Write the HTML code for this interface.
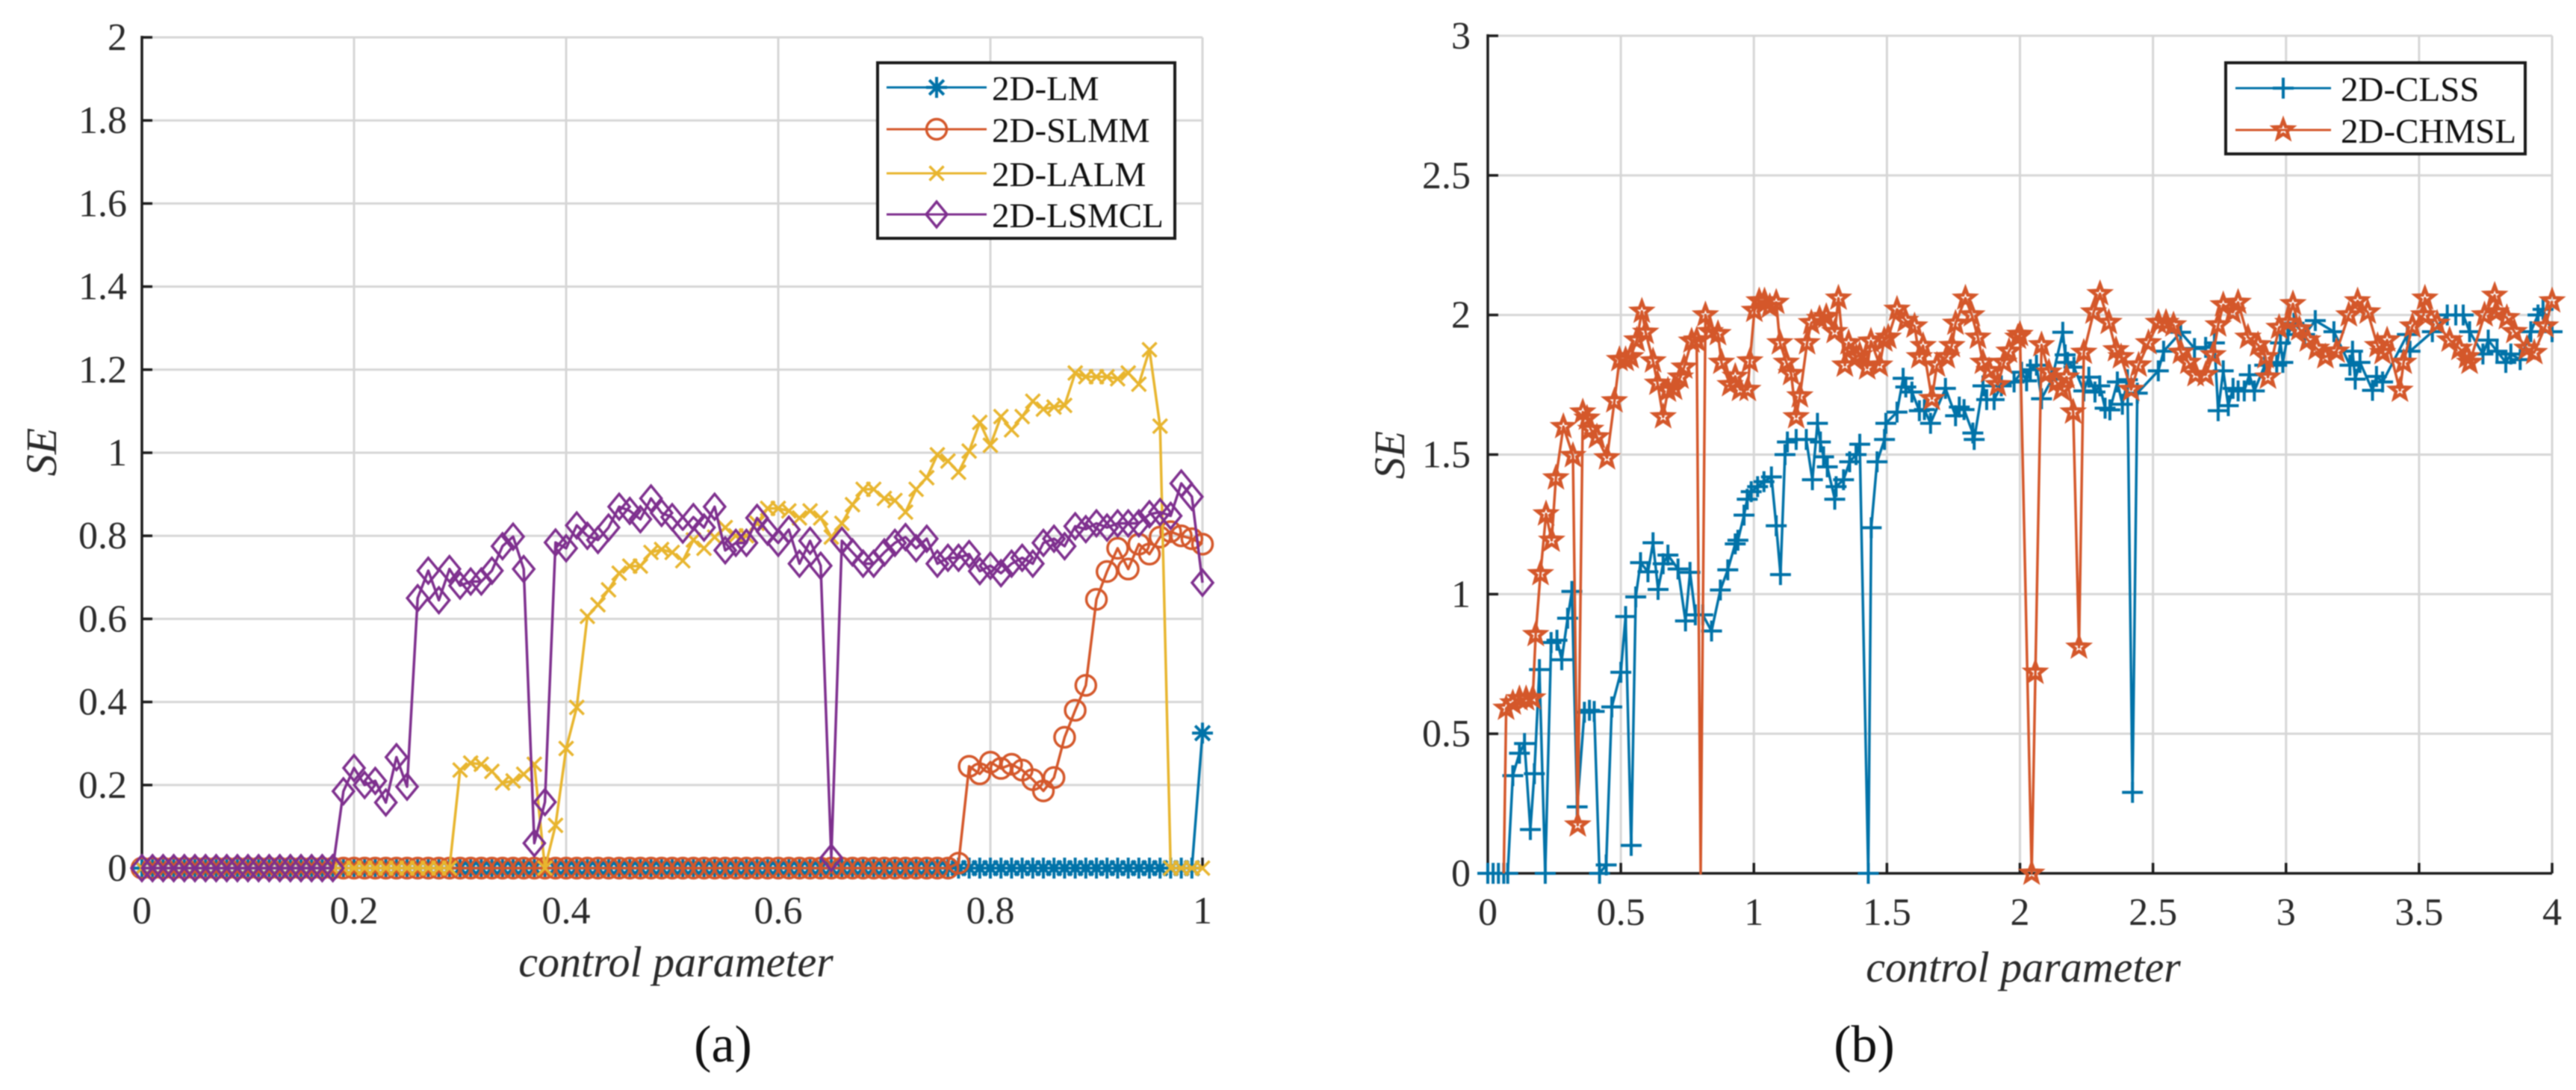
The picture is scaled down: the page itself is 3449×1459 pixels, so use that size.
<!DOCTYPE html>
<html lang="en">
<head>
<meta charset="utf-8">
<title>SE versus control parameter</title>
<style>
html,body{margin:0;padding:0;background:#fff;width:3449px;height:1459px;overflow:hidden}
svg{display:block;font-family:"Liberation Serif",serif;filter:blur(0.9px)}
</style>
</head>
<body>
<svg id="figure" xmlns="http://www.w3.org/2000/svg" width="3449" height="1459" viewBox="0 0 3449 1459">
  <rect width="3449" height="1459" fill="#fff"/>
  <g id="panel-a"></g>
  <g id="panel-b"></g>
  <text x="968" y="1421" font-size="70" text-anchor="middle" fill="#111">(a)</text>
  <text x="2496" y="1421" font-size="70" text-anchor="middle" fill="#111">(b)</text>
</svg>
<script>
/* ---------- panel (a) data ---------- */
const paramA = [0,.01,.02,.03,.04,.05,.06,.07,.08,.09,.1,.11,.12,.13,.14,.15,.16,.17,.18,.19,.2,.21,.22,.23,.24,.25,.26,.27,.28,.29,.3,.31,.32,.33,.34,.35,.36,.37,.38,.39,.4,.41,.42,.43,.44,.45,.46,.47,.48,.49,.5,.51,.52,.53,.54,.55,.56,.57,.58,.59,.6,.61,.62,.63,.64,.65,.66,.67,.68,.69,.7,.71,.72,.73,.74,.75,.76,.77,.78,.79,.8,.81,.82,.83,.84,.85,.86,.87,.88,.89,.9,.91,.92,.93,.94,.95,.96,.97,.98,.99,1];
const lm2d = [0,0,0,0,0,0,0,0,0,0,0,0,0,0,0,0,0,0,0,0,0,0,0,0,0,0,0,0,0,0,0,0,0,0,0,0,0,0,0,0,0,0,0,0,0,0,0,0,0,0,0,0,0,0,0,0,0,0,0,0,0,0,0,0,0,0,0,0,0,0,0,0,0,0,0,0,0,0,0,0,0,0,0,0,0,0,0,0,0,0,0,0,0,0,0,0,0,0,0,0,.325];
const slmm2d = [0,0,0,0,0,0,0,0,0,0,0,0,0,0,0,0,0,0,0,0,0,0,0,0,0,0,0,0,0,0,0,0,0,0,0,0,0,0,0,0,0,0,0,0,0,0,0,0,0,0,0,0,0,0,0,0,0,0,0,0,0,0,0,0,0,0,0,0,0,0,0,0,0,0,0,0,0,.012,.245,.227,.255,.24,.25,.236,.213,.186,.218,.315,.38,.44,.647,.714,.77,.72,.78,.756,.797,.81,.8,.793,.78];
const lalm2d = [0,0,0,0,0,0,0,0,0,0,0,0,0,0,0,0,0,0,0,0,0,0,0,0,0,0,0,0,0,0,.236,.253,.25,.233,.205,.21,.226,.25,0,.103,.288,.387,.606,.634,.67,.71,.727,.727,.76,.767,.76,.74,.79,.77,.797,.82,.8,.8,.83,.866,.866,.86,.843,.86,.843,.797,.83,.875,.912,.912,.89,.885,.857,.912,.94,.995,.98,.953,1.004,1.073,1.018,1.087,1.055,1.087,1.124,1.105,1.11,1.114,1.192,1.183,1.183,1.183,1.178,1.192,1.165,1.248,1.064,0,0,0,0];
const lsmcl2d = [0,0,0,0,0,0,0,0,0,0,0,0,0,0,0,0,0,0,0,.185,.241,.2,.21,.158,.267,.196,.65,.716,.645,.72,.68,.69,.69,.716,.775,.798,.72,.06,.159,.784,.77,.825,.8,.79,.82,.87,.86,.84,.89,.855,.845,.815,.845,.82,.87,.765,.783,.783,.843,.81,.783,.815,.733,.788,.728,.025,.788,.76,.733,.733,.76,.783,.797,.77,.793,.733,.747,.747,.756,.715,.728,.71,.733,.747,.733,.783,.793,.775,.823,.816,.83,.82,.83,.83,.83,.852,.857,.848,.926,.894,.687];
const xTicksA = [0,0.2,0.4,0.6,0.8,1];
const yTicksA = [0,0.2,0.4,0.6,0.8,1,1.2,1.4,1.6,1.8,2];

/* ---------- panel (b) data ---------- */
const clssX = [0,.02,.04,.06,.075,.094,.119,.138,.16,.175,.194,.216,.238,.26,.278,.3,.316,.336,.363,.382,.4,.42,.445,.466,.5,.518,.539,.556,.574,.602,.621,.64,.659,.677,.715,.743,.76,.78,.808,.841,.874,.902,.93,.94,.963,.975,.99,1.014,1.038,1.066,1.084,1.1,1.117,1.126,1.159,1.197,1.22,1.239,1.25,1.262,1.276,1.304,1.309,1.337,1.36,1.384,1.398,1.43,1.441,1.463,1.491,1.496,1.538,1.561,1.571,1.594,1.622,1.641,1.664,1.72,1.758,1.772,1.79,1.823,1.828,1.861,1.875,1.903,1.93,1.978,2.006,2.025,2.039,2.062,2.081,2.12,2.161,2.17,2.179,2.203,2.24,2.259,2.282,2.3,2.32,2.338,2.366,2.385,2.404,2.423,2.441,2.52,2.54,2.604,2.656,2.698,2.731,2.745,2.764,2.783,2.801,2.82,2.843,2.862,2.881,2.92,2.965,2.979,2.988,3.007,3.03,3.07,3.11,3.18,3.24,3.25,3.26,3.278,3.325,3.34,3.363,3.456,3.466,3.55,3.606,3.638,3.666,3.69,3.74,3.76,3.793,3.826,3.845,3.88,3.92,3.947,3.966,4];
const clssY = [0,0,0,0,0,.35,.43,.465,.157,.357,.73,0,.827,.835,.765,.914,1.01,.238,.577,.584,.58,0,.03,.596,.72,.92,.1,.99,1.113,1.08,1.184,1.017,1.109,1.14,1.09,.904,1.078,.926,.926,.868,1.015,1.087,1.18,1.193,1.283,1.34,1.367,1.385,1.403,1.42,1.245,1.07,1.5,1.545,1.554,1.554,1.41,1.612,1.545,1.492,1.456,1.34,1.385,1.41,1.474,1.5,1.537,0,1.238,1.474,1.554,1.612,1.652,1.773,1.742,1.724,1.657,1.661,1.612,1.737,1.639,1.67,1.661,1.577,1.554,1.746,1.697,1.697,1.746,1.76,1.795,1.764,1.804,1.82,1.7,1.77,1.938,1.857,1.83,1.813,1.728,1.777,1.724,1.746,1.666,1.66,1.76,1.68,1.768,.29,1.72,1.8,1.87,1.938,1.88,1.884,1.9,1.657,1.8,1.675,1.737,1.728,1.728,1.786,1.728,1.82,1.82,1.9,1.83,1.93,1.97,1.93,1.98,1.94,1.82,1.87,1.77,1.83,1.73,1.78,1.76,1.93,1.87,1.94,2,2,2,1.94,1.86,1.91,1.87,1.83,1.86,1.84,1.94,2,2.02,1.94];
const chmslX = [.06,.069,.094,.119,.144,.169,.18,.198,.219,.24,.256,.284,.32,.338,.357,.373,.387,.41,.448,.476,.495,.518,.537,.56,.579,.593,.621,.638,.659,.677,.7,.724,.738,.766,.785,.8,.818,.836,.865,.878,.911,.93,.948,.977,.985,1.002,1.02,1.04,1.06,1.084,1.098,1.122,1.14,1.159,1.173,1.2,1.216,1.247,1.272,1.304,1.318,1.342,1.356,1.385,1.398,1.426,1.44,1.473,1.49,1.505,1.538,1.57,1.604,1.622,1.636,1.669,1.688,1.725,1.744,1.758,1.795,1.819,1.842,1.861,1.884,1.917,1.94,1.959,1.992,2,2.044,2.058,2.081,2.109,2.137,2.156,2.175,2.2,2.222,2.24,2.277,2.301,2.334,2.361,2.38,2.418,2.446,2.483,2.52,2.549,2.577,2.605,2.633,2.66,2.698,2.726,2.745,2.764,2.8,2.82,2.857,2.895,2.923,2.932,2.974,3.007,3.026,3.05,3.082,3.115,3.148,3.19,3.236,3.269,3.307,3.344,3.363,3.38,3.428,3.442,3.475,3.517,3.522,3.568,3.615,3.652,3.68,3.69,3.746,3.784,3.79,3.83,3.858,3.905,3.933,3.975,4];
const chmslY = [0,.591,.61,.625,.625,.628,.855,1.073,1.287,1.193,1.416,1.6,1.496,.173,1.652,1.63,1.59,1.563,1.488,1.692,1.84,1.84,1.85,1.91,2.013,1.938,1.835,1.755,1.635,1.73,1.737,1.777,1.813,1.906,1.91,0,2,1.94,1.933,1.83,1.75,1.78,1.733,1.733,1.835,2.016,2.05,2.05,2.03,2.045,1.9,1.83,1.79,1.635,1.71,1.9,1.972,1.987,1.994,1.94,2.06,1.82,1.9,1.849,1.857,1.81,1.906,1.82,1.91,1.92,2.02,1.98,1.96,1.85,1.89,1.7,1.82,1.85,1.89,1.97,2.06,2,1.92,1.83,1.8,1.75,1.83,1.87,1.92,1.93,0,.72,1.893,1.795,1.76,1.733,1.777,1.652,.81,1.866,2.01,2.076,1.973,1.875,1.85,1.733,1.82,1.9,1.973,1.973,1.964,1.866,1.83,1.786,1.786,1.857,1.964,2.036,2.01,2.045,1.92,1.893,1.85,1.777,1.955,1.973,2.04,1.95,1.91,1.88,1.85,1.87,2,2.05,2.01,1.89,1.865,1.91,1.73,1.83,1.96,2,2.06,1.97,1.91,1.88,1.85,1.83,2,2.07,2.01,1.99,1.94,1.88,1.865,1.96,2.05];
const chmslNoMarkerX = [.06,.8];
const xTicksB = [0,0.5,1,1.5,2,2.5,3,3.5,4];
const yTicksB = [0,0.5,1,1.5,2,2.5,3];

/* ---------- axis functions ---------- */
function xA(v){return 190+v*1420;}
function yA(v){return 1162-v*556;}
function xB(v){return 1992+v*356.25;}
function yB(v){return 1169-v*373.7;}

const NS='http://www.w3.org/2000/svg';
const COLORS={blue:'#0072A8',orange:'#D4572A',yellow:'#E8B52E',purple:'#7E2F8E'};

function mk(parent,tag,attrs){
  const el=document.createElementNS(NS,tag);
  for(const k in attrs){el.setAttribute(k,attrs[k]);}
  parent.appendChild(el);
  return el;
}
function starPoints(x,y,r){
  const pts=[];
  for(let i=0;i<10;i++){
    const rad=i%2?r*0.42:r;
    const a=-Math.PI/2+i*Math.PI/5;
    pts.push((x+rad*Math.cos(a)).toFixed(1)+','+(y+rad*Math.sin(a)).toFixed(1));
  }
  return pts.join(' ');
}
function marker(g,type,x,y,color){
  let el;
  const base={fill:'none',stroke:color,'stroke-width':3.5};
  if(type==='asterisk'){
    const r=14;
    el=mk(g,'path',Object.assign({},base,{'stroke-width':4,d:
      'M'+(x-r)+' '+y+'H'+(x+r)+'M'+x+' '+(y-r)+'V'+(y+r)+
      'M'+(x-r*.7)+' '+(y-r*.7)+'L'+(x+r*.7)+' '+(y+r*.7)+
      'M'+(x-r*.7)+' '+(y+r*.7)+'L'+(x+r*.7)+' '+(y-r*.7)}));
  }else if(type==='circle'){
    el=mk(g,'circle',Object.assign({},base,{cx:x,cy:y,r:13.5}));
  }else if(type==='cross'){
    const r=9.5;
    el=mk(g,'path',Object.assign({},base,{d:
      'M'+(x-r)+' '+(y-r)+'L'+(x+r)+' '+(y+r)+'M'+(x-r)+' '+(y+r)+'L'+(x+r)+' '+(y-r)}));
  }else if(type==='diamond'){
    el=mk(g,'path',Object.assign({},base,{d:
      'M'+x+' '+(y-17)+'L'+(x+14)+' '+y+'L'+x+' '+(y+17)+'L'+(x-14)+' '+y+'Z'}));
  }else if(type==='plus'){
    const r=14;
    el=mk(g,'path',Object.assign({},base,{'stroke-width':4,d:
      'M'+(x-r)+' '+y+'H'+(x+r)+'M'+x+' '+(y-r)+'V'+(y+r)}));
  }else{
    el=mk(g,'polygon',Object.assign({},base,{points:starPoints(x,y,13),'stroke-width':4.5}));
  }
  
  
  return el;
}
function drawSeries(root,name,xs,ys,fx,fy,type,color,skipX){
  const g=mk(root,'g',{});
  
  
  const d=xs.map((v,i)=>(i?'L':'M')+fx(v).toFixed(1)+' '+fy(ys[i]).toFixed(1)).join('');
  const line=mk(g,'path',{d:d,fill:'none',stroke:color,'stroke-width':3.5,'stroke-linejoin':'round'});
  
  
  xs.forEach((v,i)=>{
    if(skipX&&skipX.indexOf(v)>=0){return;}
    marker(g,type,fx(v),fy(ys[i]),color);
  });
}
function drawAxes(root,xTicks,yTicks,fx,fy,xMax,yMax,labelRight,xBase,xLabelX,xLabelY,seX,seY){
  const x0=fx(0),x1=fx(xMax),y0=fy(0),y1=fy(yMax);
  const grid=mk(root,'g',{stroke:'#d6d6d6','stroke-width':3,fill:'none'});
  
  
  xTicks.forEach(t=>{
    if(t===0){return;}
    const l=mk(grid,'line',{x1:fx(t),x2:fx(t),y1:y0,y2:y1});
    
    
  });
  yTicks.forEach(t=>{
    if(t===0){return;}
    const l=mk(grid,'line',{x1:x0,x2:x1,y1:fy(t),y2:fy(t)});
    
    
  });
  const axes=mk(root,'g',{stroke:'#1c1c1c','stroke-width':3.5,fill:'none'});
  
  
  const ya=mk(axes,'line',{x1:x0,x2:x0,y1:y0+2,y2:y1-2});
  
  
  const xa=mk(axes,'line',{x1:x0,x2:x1,y1:y0,y2:y0});
  
  
  xTicks.forEach(t=>{
    const m=mk(axes,'line',{x1:fx(t),x2:fx(t),y1:y0,y2:y0-14});
    
    
    const s=mk(root,'text',{x:fx(t),y:xBase,'font-size':52,'text-anchor':'middle',fill:'#2a2a2a'});
    s.textContent=String(t);
    
    
  });
  yTicks.forEach(t=>{
    const m=mk(axes,'line',{x1:x0,x2:x0+14,y1:fy(t),y2:fy(t)});
    
    
    const s=mk(root,'text',{x:labelRight,y:fy(t)+17,'font-size':52,'text-anchor':'end',fill:'#2a2a2a'});
    s.textContent=String(t);
    
    
  });
  const xt=mk(root,'text',{x:xLabelX,y:xLabelY,'font-size':58,'font-style':'italic','text-anchor':'middle',fill:'#2a2a2a'});
  xt.textContent='control parameter';
  
  
  const yt=mk(root,'text',{x:seX,y:seY,'font-size':58,'font-style':'italic','text-anchor':'middle',fill:'#2a2a2a',transform:'rotate(-90 '+seX+' '+seY+')'});
  yt.textContent='SE';
  
  
}
function drawLegend(root,box,entries,lineX0,lineX1,textX){
  const g=mk(root,'g',{});
  
  
  const r=mk(g,'rect',{x:box[0],y:box[1],width:box[2],height:box[3],fill:'#fff',stroke:'#1a1a1a','stroke-width':4});
  
  
  entries.forEach(e=>{
    const eg=mk(g,'g',{});
    
    
    const l=mk(eg,'line',{x1:lineX0,x2:lineX1,y1:e.y,y2:e.y,stroke:e.color,'stroke-width':3});
    
    
    marker(eg,e.type,(lineX0+lineX1)/2,e.y,e.color);
    const t=mk(eg,'text',{x:textX,y:e.y+17,'font-size':47,fill:'#111'});
    t.textContent=e.label;
    
    
  });
}

const pa=document.getElementById('panel-a');
drawAxes(pa,xTicksA,yTicksA,xA,yA,1,2,170,1236,905,1307,75,605);
drawSeries(pa,'2d-lm',paramA,lm2d,xA,yA,'asterisk',COLORS.blue);
drawSeries(pa,'2d-slmm',paramA,slmm2d,xA,yA,'circle',COLORS.orange);
drawSeries(pa,'2d-lalm',paramA,lalm2d,xA,yA,'cross',COLORS.yellow);
drawSeries(pa,'2d-lsmcl',paramA,lsmcl2d,xA,yA,'diamond',COLORS.purple);
drawLegend(pa,[1175,84,398,235],[
  {y:117,type:'asterisk',color:COLORS.blue,label:'2D-LM'},
  {y:173,type:'circle',color:COLORS.orange,label:'2D-SLMM'},
  {y:232,type:'cross',color:COLORS.yellow,label:'2D-LALM'},
  {y:287,type:'diamond',color:COLORS.purple,label:'2D-LSMCL'}
],1187,1321,1328);

const pb=document.getElementById('panel-b');
drawAxes(pb,xTicksB,yTicksB,xB,yB,4,3,1969,1238,2709,1314,1880,609);
drawSeries(pb,'2d-clss',clssX,clssY,xB,yB,'plus',COLORS.blue);
drawSeries(pb,'2d-chmsl',chmslX,chmslY,xB,yB,'star',COLORS.orange,chmslNoMarkerX);
drawLegend(pb,[2980,84,401,122],[
  {y:118,type:'plus',color:COLORS.blue,label:'2D-CLSS'},
  {y:174,type:'star',color:COLORS.orange,label:'2D-CHMSL'}
],2993,3121,3134);
</script>
</body>
</html>
